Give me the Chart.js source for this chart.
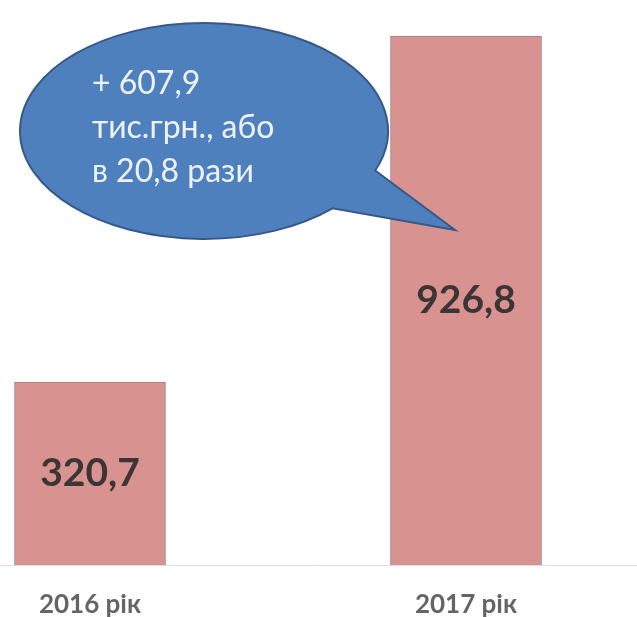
<!DOCTYPE html>
<html>
<head>
<meta charset="utf-8">
<script src="https://cdn.jsdelivr.net/npm/chart.js@4.4.1/dist/chart.umd.min.js"></script>
<style>
  html, body { margin: 0; padding: 0; background: #ffffff; }
  #chart { display: block; }
</style>
</head>
<body>
<canvas id="chart" width="637" height="617"></canvas>
<script>
// Chart data
const years = ['2016 рік', '2017 рік'];
const amounts = [320.7, 926.8];
const amountLabels = ['320,7', '926,8'];

// Callout text
const calloutLines = ['+ 607,9', 'тис.грн., або', 'в 20,8 рази'];

const barFill = '#d8928f';
const barBorder = '#a27e8e';

// baseline across the whole picture, value labels inside bars, year labels under them
const barExtras = {
    id: 'barExtras',
    beforeDatasetsDraw(chart) {
        const ctx = chart.ctx;
        const y0 = chart.scales.y.getPixelForValue(0);
        ctx.save();
        ctx.strokeStyle = '#dcdcdc';
        ctx.lineWidth = 1;
        ctx.beginPath();
        ctx.moveTo(0, Math.round(y0) + 0.5);
        ctx.lineTo(chart.width, Math.round(y0) + 0.5);
        ctx.stroke();
        ctx.restore();
    },
    afterDatasetsDraw(chart) {
        const ctx = chart.ctx;
        const meta = chart.getDatasetMeta(0);
        const xs = chart.scales.x;
        const y0 = chart.scales.y.getPixelForValue(0);
        ctx.save();
        ctx.textAlign = 'center';
        ctx.textBaseline = 'middle';
        ctx.font = 'bold 39px Lato';
        ctx.fillStyle = '#3d3535';
        meta.data.forEach((bar, i) => {
            ctx.fillText(amountLabels[i], bar.x, (bar.y + bar.base) / 2);
        });
        ctx.font = 'bold 26px Lato';
        ctx.fillStyle = '#656565';
        years.forEach((label, i) => {
            ctx.fillText(label, xs.getPixelForValue(i), y0 + 40);
        });
        ctx.restore();
    }
};

// speech bubble pointing at the 2017 bar
const callout = {
    id: 'callout',
    afterDraw(chart) {
        const ctx = chart.ctx;
        const bar = chart.getDatasetMeta(0).data[1];
        const cx = 204, cy = 131, rx = 184, ry = 108;
        const tipX = bar.x - 11, tipY = 230;

        ctx.save();
        ctx.beginPath();
        // ellipse from the lower tail joint round to the upper one
        const a1 = Math.atan2((170 - cy) / ry, (373 - cx) / rx);
        const a2 = Math.atan2((208 - cy) / ry, (332 - cx) / rx);
        ctx.ellipse(cx, cy, rx, ry, 0, a2, a1 + Math.PI * 2, false);
        ctx.lineTo(tipX, tipY);
        ctx.closePath();
        ctx.fillStyle = '#4f80be';
        ctx.fill();
        ctx.strokeStyle = '#36598a';
        ctx.lineWidth = 2;
        ctx.stroke();

        ctx.fillStyle = '#eef2fa';
        ctx.font = '32px Lato';
        ctx.textAlign = 'left';
        ctx.textBaseline = 'alphabetic';
        calloutLines.forEach((line, i) => {
            ctx.fillText(line, 92, 94 + i * 44);
        });
        ctx.restore();
    }
};

new Chart(document.getElementById('chart'), {
    type: 'bar',
    data: {
        labels: years,
        datasets: [{
            data: amounts,
            backgroundColor: barFill,
            borderColor: barBorder,
            borderWidth: 1,
            barThickness: 151,
            clip: false
        }]
    },
    options: {
        responsive: false,
        animation: false,
        layout: { padding: { left: 90, right: 171, top: 0, bottom: 52 } },
        plugins: {
            legend: { display: false },
            tooltip: { enabled: false }
        },
        scales: {
            x: {
                display: false,
                offset: false
            },
            y: {
                display: false,
                min: 0,
                max: 990
            }
        }
    },
    plugins: [barExtras, callout]
});
</script>
</body>
</html>
